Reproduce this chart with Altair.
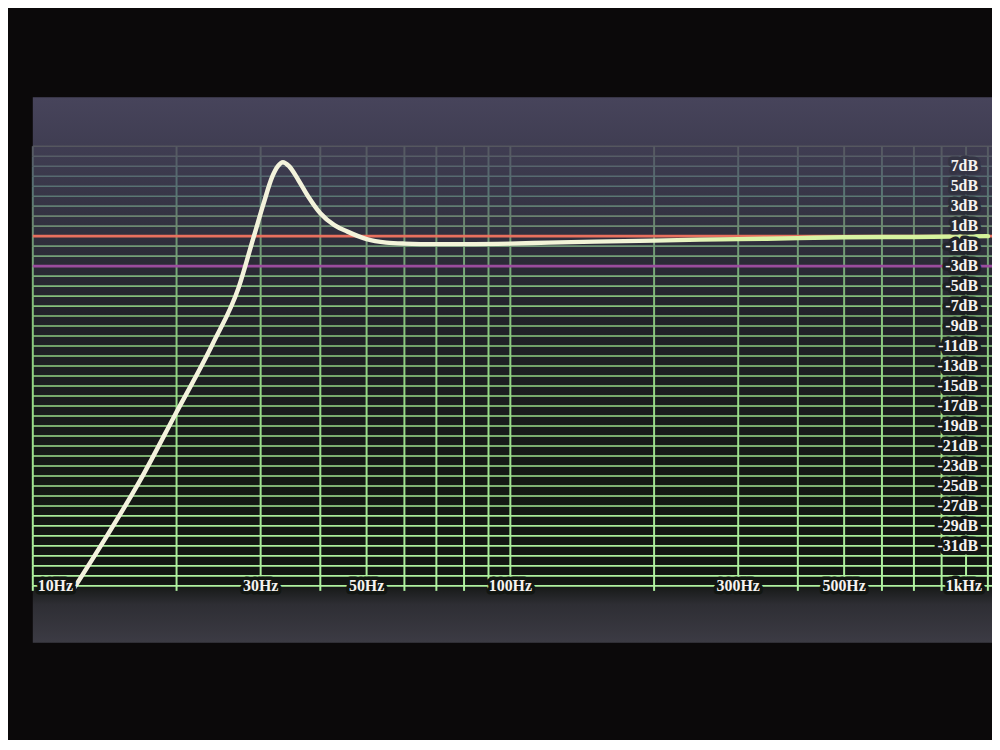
import altair as alt
import pandas as pd

# ---------------- data ----------------
# measured response curve (Hz, dB)
freq_hz = [12.1, 14.0, 16.8, 19.8, 23.8, 27.0, 29.0, 30.4, 31.7, 32.6, 33.4, 34.4,
           36.0, 37.7, 40.0, 42.8, 45.6, 50.0, 55.0, 60.0, 70.0, 80.0, 100.0,
           120.0, 150.0, 200.0, 250.0, 300.0, 400.0, 500.0, 700.0, 1000.0]
level_db = [-35.5, -30.7, -24.4, -18.0, -10.8, -5.1, -0.1, 3.2, 5.9, 7.0, 7.4, 7.0,
            5.6, 4.0, 2.3, 1.1, 0.45, -0.3, -0.65, -0.75, -0.8, -0.8, -0.75,
            -0.65, -0.55, -0.45, -0.35, -0.3, -0.2, -0.12, -0.08, 0.0]

# grid
grid_db = list(range(-35, 10))                      # one line per dB
grid_hz = [10, 20, 30, 40, 50, 60, 70, 80, 90, 100,
           200, 300, 400, 500, 600, 700, 800, 900, 1000]

# tick labels
db_ticks = list(range(7, -32, -2))
hz_ticks = [10, 30, 50, 100, 300, 500, 1000]
hz_text = ["10Hz", "30Hz", "50Hz", "100Hz", "300Hz", "500Hz", "1kHz"]

# reference levels
ref_zero_db = [0]
ref_minus3_db = [-3]

# ---------------- styles ----------------
X_DOMAIN = [10, 1020]
Y_DOMAIN = [-40.7, 13.9]
GRID_BOTTOM = -35.5
FONT = "Liberation Serif"
RED = "#e8705e"
PURPLE = "#9b4c9e"
TEXT = "#f6f3f0"

xs = alt.Scale(type="log", domain=X_DOMAIN)
ys = alt.Scale(domain=Y_DOMAIN)

grid_color = alt.Scale(domain=[9, 2, -6, -16, -35],
                       range=["#55575f", "#6a8270", "#84bd7b", "#97da87", "#b0f2a0"])
halo_color = alt.Scale(domain=[9, -4, -35],
                       range=["#3a384a", "#1d1f22", "#121612"])

# ---------------- tables ----------------
curve_df = pd.DataFrame({"f": freq_hz, "db": level_db})
hl_df = pd.DataFrame({"db": grid_db})
hl_df["f0"] = X_DOMAIN[0]
hl_df["f1"] = X_DOMAIN[1]

seg = []
for f in grid_hz:
    seg.append({"f": f, "y0": GRID_BOTTOM, "y1": grid_db[0], "c": grid_db[0]})
    for d in grid_db[:-1]:
        seg.append({"f": f, "y0": d, "y1": d + 1, "c": d + 0.5})
vl_df = pd.DataFrame(seg)

dbl_df = pd.DataFrame({"db": db_ticks, "t": [f"{v}dB" for v in db_ticks]})
dbl_df["f"] = hz_ticks[-1]
hzl_df = pd.DataFrame({"f": hz_ticks, "t": hz_text})
hzl_df["db"] = grid_db[0]

panel_df = pd.DataFrame({"f0": [X_DOMAIN[0]], "f1": [X_DOMAIN[1]],
                         "y0": [Y_DOMAIN[0]], "y1": [Y_DOMAIN[1]]})

# ---------------- layers ----------------
panel_grad = alt.LinearGradient(
    gradient="linear",
    stops=[alt.GradientStop(offset=0, color="#47445b"),
           alt.GradientStop(offset=0.12, color="#3d3b4f"),
           alt.GradientStop(offset=0.4, color="#22222a"),
           alt.GradientStop(offset=0.7, color="#141814"),
           alt.GradientStop(offset=0.89, color="#121512"),
           alt.GradientStop(offset=0.93, color="#2e2e34"),
           alt.GradientStop(offset=1, color="#3c3b44")],
    x1=0, x2=0, y1=0, y2=1,
)
panel = alt.Chart(panel_df).mark_rect(color=panel_grad).encode(
    x=alt.X("f0:Q", scale=xs, axis=None),
    x2="f1:Q",
    y=alt.Y("y0:Q", scale=ys, axis=None),
    y2="y1:Q",
)

hlines = alt.Chart(hl_df).mark_rule(strokeWidth=1.6).encode(
    x=alt.X("f0:Q", scale=xs, axis=None),
    x2="f1:Q",
    y=alt.Y("db:Q", scale=ys, axis=None),
    color=alt.Color("db:Q", scale=grid_color, legend=None),
)

vlines = alt.Chart(vl_df).mark_rule(strokeWidth=2).encode(
    x=alt.X("f:Q", scale=xs, axis=None),
    y=alt.Y("y0:Q", scale=ys, axis=None),
    y2="y1:Q",
    color=alt.Color("c:Q", scale=grid_color, legend=None),
)

def ref_line(values, col):
    d = pd.DataFrame({"db": values})
    d["f0"] = X_DOMAIN[0]
    d["f1"] = X_DOMAIN[1]
    return alt.Chart(d).mark_rule(strokeWidth=2.6, color=col).encode(
        x=alt.X("f0:Q", scale=xs, axis=None),
        x2="f1:Q",
        y=alt.Y("db:Q", scale=ys, axis=None),
    )

red_line = ref_line(ref_zero_db, RED)
purple_line = ref_line(ref_minus3_db, PURPLE)

curve_grad = alt.LinearGradient(
    gradient="linear",
    stops=[alt.GradientStop(offset=0, color="#f4f2de"),
           alt.GradientStop(offset=0.62, color="#f2f4d6"),
           alt.GradientStop(offset=0.72, color="#dcf3aa"),
           alt.GradientStop(offset=1, color="#d4f29a")],
    x1=0, x2=1, y1=0, y2=0,
)
curve = alt.Chart(curve_df).mark_line(
    color=curve_grad, strokeWidth=4.5, interpolate="monotone",
    strokeCap="round", strokeJoin="round"
).encode(
    x=alt.X("f:Q", scale=xs, axis=None),
    y=alt.Y("db:Q", scale=ys, axis=None),
)

def labels(df, align, dx):
    base = alt.Chart(df)
    enc = dict(
        x=alt.X("f:Q", scale=xs, axis=None),
        y=alt.Y("db:Q", scale=ys, axis=None),
        text="t:N",
    )
    halo = base.mark_text(align=align, baseline="middle", dx=dx, font=FONT,
                          fontSize=16, fontWeight="bold", strokeWidth=7,
                          strokeJoin="round").encode(
        stroke=alt.Stroke("db:Q", scale=halo_color, legend=None),
        fill=alt.Fill("db:Q", scale=halo_color, legend=None),
        **enc)
    txt = base.mark_text(align=align, baseline="middle", dx=dx, font=FONT,
                         fontSize=16, fontWeight="bold", color=TEXT).encode(**enc)
    return [halo, txt]

layers = [panel, hlines, vlines, purple_line, red_line, curve]
layers += labels(dbl_df, "right", -10)
layers += labels(hzl_df.iloc[:1], "left", 5)
layers += labels(hzl_df.iloc[1:-1], "center", 0)
layers += labels(hzl_df.iloc[-1:], "right", -6)

chart = alt.layer(*layers).properties(
    width=967, height=550,
    autosize=alt.AutoSizeParams(type="none"),
    padding={"left": 25, "top": 87, "right": 0, "bottom": 95},
    background="#0b090a",
).configure_view(stroke=None)

chart.save("out.html", embed_options={"renderer": "svg", "actions": False})
